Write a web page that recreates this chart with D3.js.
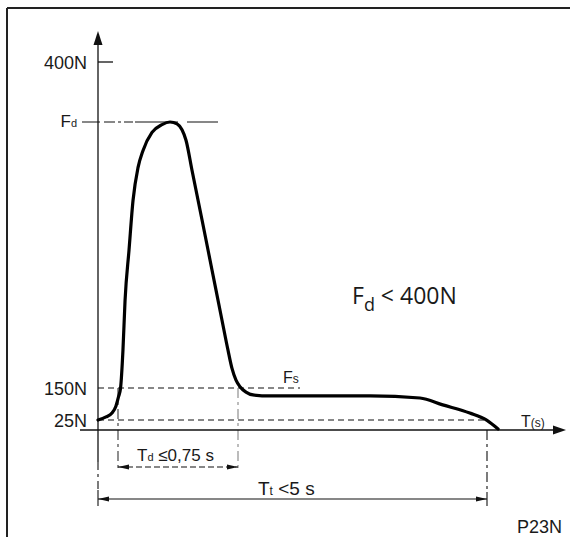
<!DOCTYPE html>
<html>
<head>
<meta charset="utf-8">
<script src="https://cdn.jsdelivr.net/npm/d3@7"></script>
<style>
  html, body { margin: 0; background: #fff; }
  text { font-family: "Liberation Sans", Arial, sans-serif; fill: #1a1a1a; }
</style>
</head>
<body>
<svg id="chart" width="570" height="537"></svg>
<script>
// force ticks on the (schematic) vertical axis
const forceTicks = [25, 150, 400];
const forceTickLabels = ["25N", "150N", "400N"];

// force curve, time in s / force in N
const curveTime = [0, 0.04, 0.07, 0.09, 0.103, 0.116, 0.131, 0.144, 0.169, 0.194, 0.225, 0.256, 0.3125,
  0.375, 0.425, 0.469, 0.5, 0.525, 0.5625, 0.625, 0.6875, 0.75, 0.7875, 0.8125, 0.8375, 0.8825, 0.98,
  1.094, 1.37, 3.0, 3.81, 4.18, 4.62, 4.9, 5.08];
const curveForce = [25, 37, 52, 80, 115, 150, 179, 217, 256, 294, 319, 332, 346,
  352, 354, 352.5, 348, 340, 317, 279, 240.5, 202, 179, 165, 156, 151, 134,
  123, 119, 119, 111, 84, 52, 24, 2.5];

const peakForce = 354;   // Fd
const holdForce = 150;   // Fs
const floorForce = 25;
const tdStart = 0.1, tdEnd = 0.85, totalTime = 4.9;

const svg = d3.select("#chart");

// piecewise scales: the drawing is schematic, not to scale
const x = d3.scaleLinear().domain([0, tdStart, tdEnd, totalTime]).range([98, 118, 238, 487]);
const y = d3.scaleLinear().domain([0, 25, 150, 400]).range([430, 420, 388, 62]);

const x0 = x(0), y0 = y(0);

const defs = svg.append("defs");
defs.append("marker")
  .attr("id", "head")
  .attr("viewBox", "0 0 11 6")
  .attr("refX", 11).attr("refY", 3)
  .attr("markerWidth", 11).attr("markerHeight", 6)
  .attr("markerUnits", "userSpaceOnUse")
  .attr("orient", "auto-start-reverse")
  .append("path").attr("d", "M0,0.5 L11,3 L0,5.5 z").attr("fill", "#111");

// frame
svg.append("line").attr("x1", 7).attr("y1", 8).attr("x2", 570).attr("y2", 8)
  .attr("stroke", "#222").attr("stroke-width", 2);
svg.append("line").attr("x1", 7).attr("y1", 8).attr("x2", 7).attr("y2", 537)
  .attr("stroke", "#222").attr("stroke-width", 2);

// reference lines
svg.append("line")
  .attr("x1", x0).attr("x2", x(totalTime))
  .attr("y1", y(floorForce)).attr("y2", y(floorForce))
  .attr("stroke", "#111").attr("stroke-width", 1.2).attr("stroke-dasharray", "6,4");
svg.append("line")
  .attr("x1", x0).attr("x2", 300)
  .attr("y1", y(holdForce)).attr("y2", y(holdForce))
  .attr("stroke", "#111").attr("stroke-width", 1.2).attr("stroke-dasharray", "6,4");
svg.append("line")
  .attr("x1", x0 - 16).attr("x2", 218)
  .attr("y1", y(peakForce)).attr("y2", y(peakForce))
  .attr("stroke", "#111").attr("stroke-width", 1.2)
  .attr("stroke-dasharray", "18,4,11,3,3,3,9,2,43,9,31");

// Td verticals
svg.append("line")
  .attr("x1", x(tdStart)).attr("x2", x(tdStart))
  .attr("y1", y(holdForce)).attr("y2", 470)
  .attr("stroke", "#333").attr("stroke-width", 1.1).attr("stroke-dasharray", "10,4,3,4");
svg.append("line")
  .attr("x1", x(tdEnd)).attr("x2", x(tdEnd))
  .attr("y1", y(holdForce)).attr("y2", 470)
  .attr("stroke", "#999").attr("stroke-width", 1.3).attr("stroke-dasharray", "10,4,3,4");

// Tt verticals
svg.append("line")
  .attr("x1", x(totalTime)).attr("x2", x(totalTime))
  .attr("y1", y0).attr("y2", 492)
  .attr("stroke", "#111").attr("stroke-width", 1.1).attr("stroke-dasharray", "10,4,3,4");
svg.append("line")
  .attr("x1", x(totalTime)).attr("x2", x(totalTime))
  .attr("y1", 492).attr("y2", 506)
  .attr("stroke", "#111").attr("stroke-width", 1.1);
svg.append("line")
  .attr("x1", x0).attr("x2", x0)
  .attr("y1", 462).attr("y2", 490)
  .attr("stroke", "#111").attr("stroke-width", 1.1).attr("stroke-dasharray", "8,4,3,4");
svg.append("line")
  .attr("x1", x0).attr("x2", x0)
  .attr("y1", 490).attr("y2", 506)
  .attr("stroke", "#111").attr("stroke-width", 1.1);

// axes
svg.append("line").attr("x1", x0).attr("x2", x0).attr("y1", 44).attr("y2", 462)
  .attr("stroke", "#111").attr("stroke-width", 1.3);
svg.append("path")
  .attr("d", `M${x0},31 L${x0 + 4.5},45 L${x0 - 4.5},45 z`).attr("fill", "#111");
svg.append("line").attr("x1", 80).attr("x2", 554).attr("y1", y0).attr("y2", y0)
  .attr("stroke", "#111").attr("stroke-width", 1.3);
svg.append("path")
  .attr("d", `M566,${y0} L553,${y0 - 4.5} L553,${y0 + 4.5} z`).attr("fill", "#111");

// 400N tick
svg.append("line")
  .attr("x1", x0).attr("x2", x0 + 15)
  .attr("y1", y(400)).attr("y2", y(400))
  .attr("stroke", "#111").attr("stroke-width", 1.3);

svg.selectAll("text.tick")
  .data(forceTicks)
  .enter()
  .append("text")
  .attr("class", "tick")
  .attr("x", 87)
  .attr("y", (d) => y(d) + 7)
  .attr("text-anchor", "end")
  .style("font-size", "18px")
  .text((d, i) => forceTickLabels[i]);

// curve
const line = d3.line()
  .x((d) => x(d[0]))
  .y((d) => y(d[1]))
  .curve(d3.curveMonotoneX);

svg.append("path")
  .datum(curveTime.map((t, i) => [t, curveForce[i]]))
  .attr("d", line)
  .attr("fill", "none")
  .attr("stroke", "#000")
  .attr("stroke-width", 3.2)
  .attr("stroke-linecap", "round");

// dimension arrows
svg.append("line")
  .attr("x1", x(tdStart)).attr("x2", x(tdEnd))
  .attr("y1", 467).attr("y2", 467)
  .attr("stroke", "#111").attr("stroke-width", 1.2)
  .attr("stroke-dasharray", "6,3")
  .attr("marker-start", "url(#head)").attr("marker-end", "url(#head)");
svg.append("line")
  .attr("x1", x0).attr("x2", x(totalTime))
  .attr("y1", 499).attr("y2", 499)
  .attr("stroke", "#111").attr("stroke-width", 1.2)
  .attr("marker-start", "url(#head)").attr("marker-end", "url(#head)");

// labels
function sub(xp, yp, main, small, size, subSize, anchor) {
  const t = svg.append("text").attr("x", xp).attr("y", yp)
    .attr("text-anchor", anchor || "start").style("font-size", size + "px");
  t.append("tspan").text(main);
  t.append("tspan").style("font-size", subSize + "px").text(small);
  return t;
}

sub(77, y(peakForce) + 5, "F", "d", 17, 11, "end");
sub(283, 383, "F", "s", 16, 12);
sub(137, 461, "T", "d", 17, 11).append("tspan").text(" \u22640,75 s");
sub(258, 495, "T", "t", 19, 12).append("tspan").text(" <5 s");
sub(521, 427, "T", "(s)", 16, 12);

svg.append("text").attr("x", 517).attr("y", 533).style("font-size", "18px").text("P23N");

const big = svg.append("text")
  .attr("x", 352).attr("y", 304)
  .style("font-family", "'Open Sans', 'Noto Sans', sans-serif")
  .style("font-size", "23px");
big.append("tspan").text("F");
big.append("tspan").attr("dy", 7).style("font-size", "18px").text("d");
big.append("tspan").attr("dy", -7).text(" < 400N");
</script>
</body>
</html>
